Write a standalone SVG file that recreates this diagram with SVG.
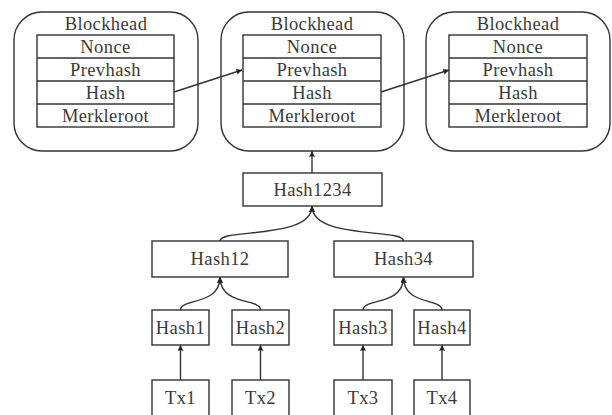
<svg xmlns="http://www.w3.org/2000/svg" width="612" height="415" viewBox="0 0 612 415">
<defs>
<style>
.t{font-family:"Liberation Serif","Times New Roman",serif;font-size:18.5px;letter-spacing:0.4px;fill:#3a3a3a;text-anchor:middle}
.b{fill:#fff;stroke:#333;stroke-width:1.4}
.c{fill:none;stroke:#333;stroke-width:1.4}
</style>
<marker id="ah" markerWidth="8" markerHeight="8" refX="6" refY="3" orient="auto" markerUnits="userSpaceOnUse">
<path d="M0,0 L6,3 L0,6 Q1.5,3 0,0 z" fill="#222"/>
</marker>
</defs>
<rect width="612" height="415" fill="#fff"/>

<g id="block1">
<rect class="b" x="14" y="12" width="184" height="139" rx="28"/>
<text class="t" x="106" y="30">Blockhead</text>
<rect class="b" x="37" y="35" width="137" height="92"/>
<line class="c" x1="37" y1="58" x2="174" y2="58"/>
<line class="c" x1="37" y1="81" x2="174" y2="81"/>
<line class="c" x1="37" y1="104" x2="174" y2="104"/>
<text class="t" x="105.5" y="53">Nonce</text>
<text class="t" x="105.5" y="76">Prevhash</text>
<text class="t" x="105.5" y="99">Hash</text>
<text class="t" x="105.5" y="122">Merkleroot</text>
</g>

<g id="block2">
<rect class="b" x="221" y="12" width="183" height="139" rx="28"/>
<text class="t" x="312" y="30">Blockhead</text>
<rect class="b" x="243" y="35" width="138" height="92"/>
<line class="c" x1="243" y1="58" x2="381" y2="58"/>
<line class="c" x1="243" y1="81" x2="381" y2="81"/>
<line class="c" x1="243" y1="104" x2="381" y2="104"/>
<text class="t" x="312" y="53">Nonce</text>
<text class="t" x="312" y="76">Prevhash</text>
<text class="t" x="312" y="99">Hash</text>
<text class="t" x="312" y="122">Merkleroot</text>
</g>

<g id="block3">
<rect class="b" x="426" y="12" width="184" height="139" rx="28"/>
<text class="t" x="518" y="30">Blockhead</text>
<rect class="b" x="449" y="35" width="138" height="92"/>
<line class="c" x1="449" y1="58" x2="587" y2="58"/>
<line class="c" x1="449" y1="81" x2="587" y2="81"/>
<line class="c" x1="449" y1="104" x2="587" y2="104"/>
<text class="t" x="518" y="53">Nonce</text>
<text class="t" x="518" y="76">Prevhash</text>
<text class="t" x="518" y="99">Hash</text>
<text class="t" x="518" y="122">Merkleroot</text>
</g>

<g id="hash1234">
<rect class="b" x="243" y="173" width="139" height="33"/>
<text class="t" x="312.5" y="196">Hash1234</text>
</g>
<g id="hash12">
<rect class="b" x="152" y="241" width="136" height="36"/>
<text class="t" x="220" y="265">Hash12</text>
</g>
<g id="hash34">
<rect class="b" x="334" y="241" width="139" height="36"/>
<text class="t" x="403.5" y="265">Hash34</text>
</g>
<g id="hash1">
<rect class="b" x="152" y="310" width="57" height="35"/>
<text class="t" x="180.5" y="334">Hash1</text>
</g>
<g id="hash2">
<rect class="b" x="232" y="310" width="57" height="35"/>
<text class="t" x="260.5" y="334">Hash2</text>
</g>
<g id="hash3">
<rect class="b" x="334" y="310" width="58" height="35"/>
<text class="t" x="363" y="334">Hash3</text>
</g>
<g id="hash4">
<rect class="b" x="414" y="310" width="56" height="35"/>
<text class="t" x="442" y="334">Hash4</text>
</g>
<g id="tx1">
<rect class="b" x="152" y="380" width="57" height="36"/>
<text class="t" x="180.5" y="404">Tx1</text>
</g>
<g id="tx2">
<rect class="b" x="232" y="380" width="57" height="36"/>
<text class="t" x="260.5" y="404">Tx2</text>
</g>
<g id="tx3">
<rect class="b" x="334" y="380" width="58" height="36"/>
<text class="t" x="363" y="404">Tx3</text>
</g>
<g id="tx4">
<rect class="b" x="414" y="380" width="56" height="36"/>
<text class="t" x="442" y="404">Tx4</text>
</g>

<g id="connectors">
<line class="c" x1="174" y1="92" x2="242" y2="70" marker-end="url(#ah)"/>
<line class="c" x1="381" y1="92" x2="449" y2="70" marker-end="url(#ah)"/>
<line class="c" x1="312" y1="173" x2="312" y2="151" marker-end="url(#ah)"/>
<path class="c" d="M220,241 C220,228 312,240 312,206" marker-end="url(#ah)"/>
<path class="c" d="M403.5,241 C403.5,228 312,240 312,206" marker-end="url(#ah)"/>
<path class="c" d="M180.5,310 C180.5,298 220,306 220,277" marker-end="url(#ah)"/>
<path class="c" d="M260.5,310 C260.5,298 220,306 220,277" marker-end="url(#ah)"/>
<path class="c" d="M363,310 C363,298 403.5,306 403.5,277" marker-end="url(#ah)"/>
<path class="c" d="M442,310 C442,298 403.5,306 403.5,277" marker-end="url(#ah)"/>
<line class="c" x1="180.5" y1="380" x2="180.5" y2="345" marker-end="url(#ah)"/>
<line class="c" x1="260.5" y1="380" x2="260.5" y2="345" marker-end="url(#ah)"/>
<line class="c" x1="363" y1="380" x2="363" y2="345" marker-end="url(#ah)"/>
<line class="c" x1="442" y1="380" x2="442" y2="345" marker-end="url(#ah)"/>
</g>
</svg>
